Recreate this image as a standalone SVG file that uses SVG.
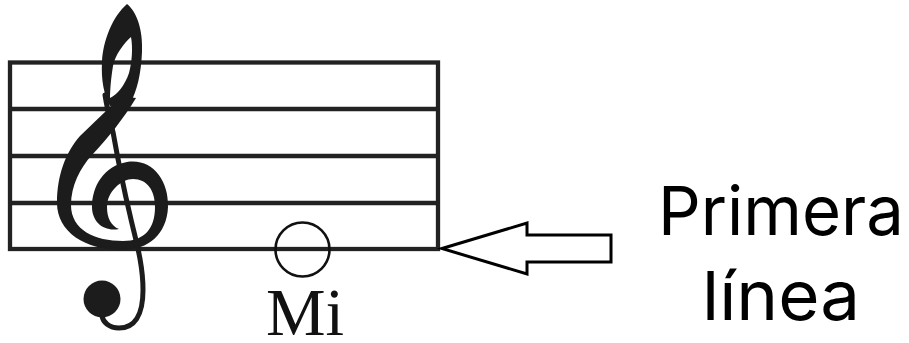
<svg xmlns="http://www.w3.org/2000/svg" width="909" height="343" viewBox="0 0 909 343">
  <style>
    .staff { fill: none; stroke: #222; stroke-width: 4.3; }
    .ink { fill: #1c1c1c; }
    .stem { fill: none; stroke: #1c1c1c; stroke-width: 5; stroke-linecap: round; }
    .note { fill: none; stroke: #111; stroke-width: 2.6; }
    .serif { font-family: "Liberation Serif", "Times New Roman", serif; fill: #111; }
    .label { font-family: Inter, "Noto Sans", "DejaVu Sans", sans-serif; fill: #000; font-weight: 400; }
    .arrow { fill: #fff; stroke: #000; stroke-width: 3; stroke-linejoin: miter; }
  </style>
  <rect width="909" height="343" fill="#fff"/>

  <g id="staff">
    <rect class="staff" x="10" y="62.5" width="428" height="186.5"/>
    <line class="staff" x1="10" y1="109" x2="438" y2="109"/>
    <line class="staff" x1="10" y1="156" x2="438" y2="156"/>
    <line class="staff" x1="10" y1="203" x2="438" y2="203"/>
  </g>

  <g id="clef">
    <path class="ink" fill-rule="evenodd" d="M127,4 C137,12 143,30 142,52 C141,75 137,90 130,104 L110,106 C104,95 101,80 102,62 C103,40 113,16 127,4 Z M131,37 C124,43 115,55 113,66 C111,78 110,90 110,98 C117,95 125,85 129,73 C132,62 133,48 131,37 Z"/>
    <path class="ink" d="M119,229 C104,232 92,222 92,207 C92,186 104,166 127,162 C152,158 169,180 168,207 C167,234 148,250 123,250 C85,250 57,232 57,203 C57,175 66,152 80,136 C92,124 108,110 120,96 L136,98 C124,118 108,138 92,155 C80,168 71,186 71,205 C71,230 95,241 123,241 C145,241 155,228 155,207 C155,190 147,179 133,179 C121,179 107,192 107,207 C107,218 111,226 119,229 Z"/>
    <path class="stem" d="M105,95 C107,108 110,120 113,132 C118,160 124,190 130,215 C135,238 143,262 143,290 C143,316 134,328 119,328 C109,328 103,322 102,316"/>
    <circle class="ink" cx="102" cy="299" r="18.5"/>
  </g>

  <g id="note-mi">
    <circle class="note" cx="302.5" cy="249.5" r="27"/>
    <text class="serif" x="266" y="335" font-size="67">Mi</text>
  </g>

  <g id="connectors">
    <polygon class="arrow" points="442,248.5 527,223 527,235 611,235 611,262 527,262 527,274"/>
  </g>

  <g id="label-primera-linea">
    <text class="label" x="781" y="235" font-size="68" text-anchor="middle" textLength="246" lengthAdjust="spacingAndGlyphs">Primera</text>
    <text class="label" x="781" y="320" font-size="68" text-anchor="middle" textLength="158" lengthAdjust="spacingAndGlyphs">línea</text>
  </g>
</svg>
